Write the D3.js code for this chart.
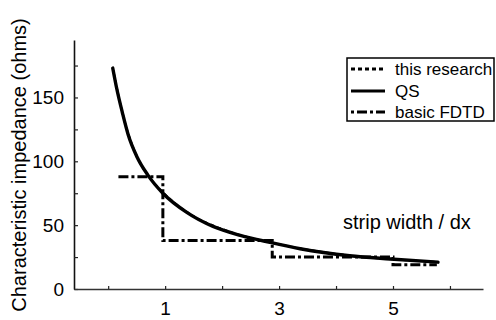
<!DOCTYPE html>
<html>
<head>
<meta charset="utf-8">
<script src="https://cdn.jsdelivr.net/npm/d3@7"></script>
<style>
  html, body { margin: 0; padding: 0; background: #fff; }
  svg { display: block; }
  text { font-family: "Liberation Sans", Arial, Helvetica, sans-serif; fill: #000; }
</style>
</head>
<body>
<svg id="chart" width="496" height="320"></svg>
<script>
// Strip width / dx on the x axis, characteristic impedance (ohms) on the y axis
const qsWidth    = [0.08, 0.15, 0.25, 0.35, 0.50, 0.70, 0.96, 1.38, 1.84, 2.32, 2.84, 3.37, 4.24, 4.95, 5.79];
const qsZ        = [173, 157, 138, 121, 104, 89, 75, 60, 49, 42, 36.5, 31.5, 26, 23.5, 21];

const researchWidth = [0.10, 0.25, 0.50, 0.75, 1.00, 1.50, 2.00, 2.50, 3.00, 4.00, 5.00, 5.75];
const researchZ     = [169, 138, 104, 86, 74, 57, 47, 40, 35, 27.5, 23.2, 21.2];

const fdtdWidth  = [0.18, 0.96, 2.88, 5.00, 5.77];
const fdtdZ      = [88, 38, 25, 19, 19];

const xTicks = [0, 1, 2, 3, 4, 5, 6];
const xTickLabels = ["", "1", "", "3", "", "5", ""];
const yTicks = [0, 25, 50, 75, 100, 125, 150, 175];
const yTickLabels = ["0", "", "50", "", "100", "", "150", ""];

const legendLabels = ["this research", "QS", "basic FDTD"];
const xTitle = "strip width / dx";
const yTitle = "Characteristic impedance (ohms)";

const svg = d3.select("#chart");
const font = "Liberation Sans, Arial, Helvetica, sans-serif";

const x = d3.scaleLinear().domain([-0.6, 6.58]).range([74, 483]);
const y = d3.scaleLinear().domain([0, 195]).range([289, 40]);

// axes
const yAxis = d3.axisLeft(y)
  .tickValues(yTicks)
  .tickFormat((d, i) => yTickLabels[i])
  .tickSize(-4).tickSizeOuter(0).tickPadding(10);
const gy = svg.append("g").attr("transform", `translate(${x.range()[0]},0)`).call(yAxis);
gy.select(".domain").attr("stroke", "#111").attr("stroke-width", 1.6);
gy.selectAll(".tick line").attr("stroke", "#222").attr("stroke-width", 1.2);
gy.selectAll(".tick text").attr("font-family", font).attr("font-size", 19).attr("fill", "#000");

const xAxis = d3.axisBottom(x)
  .tickValues(xTicks)
  .tickFormat((d, i) => xTickLabels[i])
  .tickSize(-3).tickSizeOuter(0).tickPadding(13);
const gx = svg.append("g").attr("transform", `translate(0,${y(0)})`).call(xAxis);
gx.select(".domain").attr("stroke", "#333").attr("stroke-width", 1.6);
gx.selectAll(".tick line").attr("stroke", "#222").attr("stroke-width", 1.2);
gx.selectAll(".tick text").attr("font-family", font).attr("font-size", 19).attr("fill", "#000");

// axis titles
svg.append("text")
  .attr("transform", `translate(26,165) rotate(-90)`)
  .attr("text-anchor", "middle")
  .attr("font-size", 20)
  .text(yTitle);

svg.append("text")
  .attr("x", 343).attr("y", 229)
  .attr("font-size", 20)
  .text(xTitle);

// series
const toPts = (xs, ys) => xs.map((v, i) => [v, ys[i]]);

svg.append("path")
  .datum(toPts(researchWidth, researchZ))
  .attr("fill", "none").attr("stroke", "#000").attr("stroke-width", 2)
  .attr("stroke-dasharray", "4,3")
  .attr("d", d3.line().x(d => x(d[0])).y(d => y(d[1])).curve(d3.curveMonotoneX));

svg.append("path")
  .datum(toPts(fdtdWidth, fdtdZ))
  .attr("fill", "none").attr("stroke", "#000").attr("stroke-width", 3)
  .attr("stroke-dasharray", "10,3,3,3")
  .attr("d", d3.line().x(d => x(d[0])).y(d => y(d[1])).curve(d3.curveStepAfter));

svg.append("path")
  .datum(toPts(qsWidth, qsZ))
  .attr("fill", "none").attr("stroke", "#000").attr("stroke-width", 3.4)
  .attr("stroke-linecap", "round")
  .attr("d", d3.line().x(d => x(d[0])).y(d => y(d[1])).curve(d3.curveMonotoneX));

// legend
const lg = svg.append("g");
lg.append("rect")
  .attr("x", 347).attr("y", 58).attr("width", 147).attr("height", 63)
  .attr("fill", "#fff").attr("stroke", "#000").attr("stroke-width", 1.5);
const dashes = ["4,3", null, "3,3,10,3"];
const rowY = [69, 91, 112];
legendLabels.forEach((lab, i) => {
  lg.append("line")
    .attr("x1", 351).attr("x2", 385)
    .attr("y1", rowY[i]).attr("y2", rowY[i])
    .attr("stroke", "#000").attr("stroke-width", 3)
    .attr("stroke-dasharray", dashes[i]);
  lg.append("text")
    .attr("x", 395).attr("y", rowY[i] + 6)
    .attr("font-size", 17)
    .text(lab);
});
</script>
</body>
</html>
